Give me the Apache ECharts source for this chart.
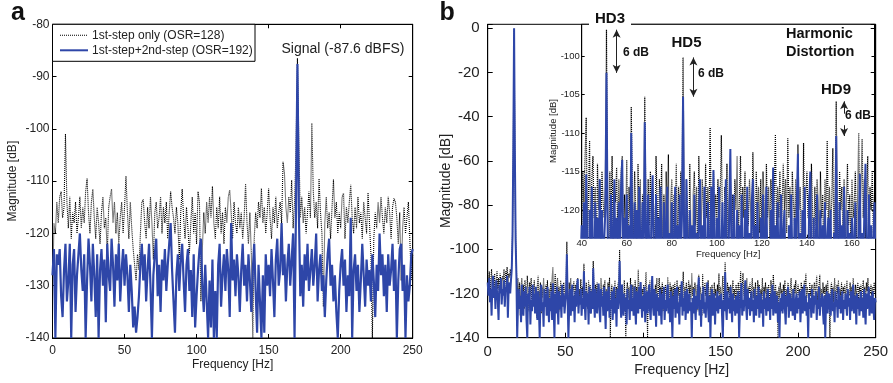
<!DOCTYPE html>
<html><head><meta charset="utf-8">
<script src="https://cdn.jsdelivr.net/npm/echarts@6/dist/echarts.min.js"></script>
<style>html,body{margin:0;padding:0;background:#fff}#c{width:893px;height:383px}</style>
</head><body><div id="c"></div>
<script>
const NAME_1 = '1st-step only (OSR=128)';
const NAME_2 = '1st-step+2nd-step (OSR=192)';
const STEP_A = 1;    // Hz per sample, panel a
const STEP_B = 0.5;  // Hz per sample, panel b (and inset)

// Panel a: 1st-step only (black dotted), 0..250 Hz
const blackA = [
-133,-118,-120,-114,-118,-113,-112,-117,-115,-101,
-114,-119,-113,-121,-116,-118,-114,-120,-117,-113,
-119,-115,-118,-112,-109.5,-116,-120,-114,-111.5,-117,
-121,-115,-118,-122,-116,-113,-119,-117,-124,-115,
-113,-111.5,-118,-114,-120,-116,-122,-117,-114,-120,
-115,-109,-116,-121,-114,-119,-123,-126,-129,-124,
-127,-120,-114,-113.5,-118,-121,-115,-119,-113,-118,
-125,-116,-114,-119,-117,-113,-120,-115,-118,-114,
-121,-116,-112,-115,-117,-120,-115,-118,-125,-116,
-111.5,-117,-121,-115,-119,-124,-118,-113,-120,-116,
-122,-112,-114,-133,-123,-116,-120,-114,-118,-113,
-117,-111,-118,-121,-115,-119,-113,-120,-116,-122,
-115,-118,-113,-111.7,-116,-121,-114,-118,-120,-115,
-119,-116,-121,-117,-110.5,-118,-122,-116,-124,-140,
-121,-116,-119,-114,-117,-111.4,-118,-115,-120,-116,
-111.4,-117,-121,-115,-118,-113,-119,-116,-114,-118,
-106.3,-108.5,-115,-118,-113,-116,-109.8,-119,-114,-104,
-86.5,-103,-117,-113,-118,-115,-120,-116,-112,-117,
-98.9,-112,-117,-114,-119,-109.5,-116,-120,-134,-118,
-113,-119,-116,-121,-115,-109.7,-117,-114,-120,-116,
-119,-113,-112.3,-121,-115,-118,-114,-110.7,-117,-120,
-115,-119,-113,-118,-116,-121,-114,-117,-120,-112.2,
-118,-124,-140,-121,-116,-119,-114,-118,-113,-117,
-120,-115,-118,-113,-116,-121,-115,-113.3,-114,-117,
-122,-116,-129,-119,-115,-120,-117,-114,-121,-129,
-124
];
// Panel a: 1st-step + 2nd-step (blue)
const blueA = [
-128,-123,-140,-124,-126,-123,-132,-136,-127,-122,
-133,-129,-122,-140,-126,-123,-135,-128,-124,-120,
-127,-131,-124,-140,-129,-121,-126,-133,-122,-128,
-136,-124,-140,-127,-123,-130,-125,-137,-122,-128,
-131,-121,-126,-134,-124,-129,-122,-133,-127,-123,
-130,-124,-128,-135,-126,-131,-138,-134,-139,-136,
-132,-126,-122,-129,-124,-133,-127,-122,-130,-140,
-128,-124,-121,-132,-126,-135,-125,-129,-123,-131,
-126,-122,-118,-127,-133,-139,-128,-124,-131,-125,
-122,-129,-135,-126,-123,-131,-127,-136,-124,-138,
-132,-127,-123,-121,-130,-135,-126,-133,-140,-129,
-138,-125,-140,-131,-140,-126,-122,-134,-128,-124,
-131,-123,-127,-136,-118,-129,-125,-132,-124,-128,
-135,-127,-122,-130,-126,-133,-124,-129,-135,-127,
-122,-131,-139,-126,-133,-140,-128,-139,-124,-130,
-126,-132,-123,-129,-136,-125,-121,-130,-127,-118,
-128,-124,-133,-126,-122,-130,-125,-120,-140,-115,
-87.6,-116,-132,-126,-134,-124,-129,-122,-131,-127,
-123,-130,-126,-120,-133,-127,-124,-131,-128,-136,
-129,-124,-121,-130,-126,-133,-128,-135,-140,-131,
-126,-123,-130,-125,-135,-128,-132,-117,-140,-127,
-124,-131,-126,-135,-129,-122,-128,-134,-125,-130,
-127,-133,-124,-129,-136,-126,-131,-120,-128,-124,
-132,-126,-135,-124,-130,-127,-122,-131,-125,-140,
-129,-123,-122,-131,-126,-140,-128,-133,-130,-124,
-123
];

// Panel b: 1st-step only (black dotted), 0..250 Hz in 0.5 Hz steps
const blackB = [
-112,-118,-110,-121,-114,-109,-119,-113,-117,-111,-122,-115,-110,-118,-113,-120,-111,-116,-119,-112,
-114,-109,-117,-110,-115,-108,-116,-111,-113,-109,-112,-106,-92,-52,0,-53,-94,-108,-121,-113,
-124,-115,-130,-117,-113,-122,-116,-127,-114,-119,-125,-112,-118,-128,-115,-121,-113,-126,-117,-120,
-114,-123,-118,-131,-116,-112,-124,-119,-115,-129,-117,-122,-113,-120,-126,-116,-121,-114,-127,-118,
-123,-115,-119,-113,-108,-124,-118,-111,-126,-116,-113,-121,-117,-128,-114,-120,-116,-125,-115,-119,
-121,-117,-96.6,-118,-130,-115,-122,-113,-126,-117,-119,-114.5,-124,-116,-121,-115,-113,-127,-118,-123,
-113.5,-125,-117,-121,-106.6,-119,-124,-115,-120,-127,-114,-122,-116,-129,-118,-121,-105.3,-120,-126,-116,
-122,-115,-124,-117,-120,-128,-113,-119,-125,-116,-121,-114,-127,-118,-123,-115,-120,-112.8,-140,-119,
-116,-124,-118,-121,-114,-126,-117,-122,-115,-120,-100.2,-119,-125,-116,-121,-127,-114,-123,-140,-118,
-115,-122,-117,-128,-113,-120,-124,-116,-119,-126,-114,-121,-117,-123,-109.3,-120,-125,-115,-122,-118,
-121,-116,-124,-118,-110.3,-122,-140,-117,-121,-114,-126,-119,-115,-123,-118,-128,-116,-120,-113,-124,
-119,-113,-125,-117,-121,-115,-128,-118,-122,-116,-120,-124,-112.5,-119,-126,-115,-121,-117,-123,-116,
-122,-115,-119,-127,-114,-121,-117,-124,-116,-120,-125,-118,-110.2,-123,-117,-121,-115,-126,-119,-114,
-120,-116,-123,-110.7,-121,-117,-125,-115,-119,-122,-116,-128,-111.5,-120,-117,-124,-130,-111.3,-122,-118,
-115,-121,-118,-124,-114,-120,-126,-117,-122,-116,-119,-125,-115,-121,-118,-127,-116,-120,-111,-123,
-117,-122,-119,-112,-124,-118,-105.9,-121,-126,-115,-120,-117,-123,-116,-128,-119,-114,-122,-118,-125,
-116,-121,-119,-115,-124,-118,-110,-122,-117,-110.8,-121,-116,-124,-118,-113,-127,-117,-120,-115,-123,
-118,-113,-122,-117,-125,-115,-120,-126,-114,-119,-116,-123,-118,-121,-113,-128,-117,-120,-115,-124,
-117,-122,-116,-120,-125,-114,-119,-123,-111.5,-118,-121,-116,-126,-119,-140,-117,-122,-115,-120,-118,
-123,-116,-120,-114,-126,-118,-121,-115,-119,-124,-117,-113,-122,-118,-127,-116,-120,-114,-123,-119,
-116,-121,-118,-124,-115,-120,-117,-126,-114,-119,-111,-122,-117,-120,-125,-115,-121,-118,-116,-123,
-118,-115,-121,-117,-112,-123,-119,-116,-111.5,-122,-118,-125,-115,-120,-117,-124,-116,-121,-114,-119,
-122,-140,-118,-115,-121,-117,-124,-113,-119,-126,-116,-120,-114,-123,-118,-121,-115,-127,-117,-120,
-116,-122,-118,-114,-125,-119,-121,-115,-120,-117,-126,-113,-119,-123,-116,-121,-118,-115,-124,-117,
-120,-116,-123,-118,-114,-121,-117,-125,-115,-119,-113,-122,-118,-120,-116,-124,-117,-121,-115,-119,
-122
];
// Panel b: 1st-step + 2nd-step (blue)
const blueB = [
-115,-121,-113,-124,-118,-130,-116,-112,-122,-117,-127,-114,-119,-123,-132,-116,-120,-113,-125,-118,
-121,-114,-126,-117,-119,-112,-131,-118,-115,-120,-114,-109,-94,-55,0,-56,-96,-112,-140,-126,
-118,-127,-121,-133,-116,-124,-130,-119,-126,-117,-132,-140,-120,-125,-117,-134,-123,-128,-116,-126,
-120,-129,-117,-125,-132,-119,-127,-140,-122,-116,-128,-124,-135,-118,-126,-120,-130,-117,-125,-133,
-122,-128,-119,-132,-115.4,-126,-140,-120,-129,-117,-125,-134,-119,-127,-121,-131,-116,-126,-120,-129,
-124,-120,-102.2,-122,-140,-127,-118,-130,-123,-116,-128,-121,-133,-119,-126,-117,-113.5,-129,-121,-125,
-118,-130,-122,-127,-110,-125,-132,-119,-126,-120,-134,-117,-124,-129,-119,-127,-108.6,-123,-131,-118,
-125,-129,-120,-115.5,-127,-133,-118,-126,-121,-130,-117,-125,-136,-119,-128,-122,-117,-131,-123,-127,
-119,-132,-124,-117,-129,-122,-135,-118,-127,-121,-105.3,-124,-131,-116,-126,-130,-120,-128,-122,-134,
-118,-127,-123,-132,-120,-116,-128,-122,-130,-117,-126,-134,-119,-125,-129,-117,-127,-114.8,-124,-131,
-121,-128,-117,-133,-125,-119,-129,-123,-116,-127,-132,-120,-112.1,-126,-130,-118,-125,-135,-120,-128,
-122,-130,-118,-126,-134,-120,-127,-117,-132,-123,-128,-119,-116,-129,-122,-133,-119,-126,-140,-121,
-127,-118,-131,-123,-117,-129,-124,-134,-120,-126,-114.5,-130,-122,-128,-119,-132,-124,-118,-129,-123,
-120,-128,-124,-140,-122,-129,-118,-126,-132,-121,-127,-119,-112.7,-130,-123,-135,-120,-127,-117,-129,
-124,-131,-119,-115,-127,-133,-121,-140,-123,-118,-130,-125,-120,-134,-122,-128,-119,-129,-124,-121,
-127,-120,-130,-140,-123,-128,-110.4,-126,-132,-119,-127,-122,-129,-117,-125,-133,-120,-128,-123,-130,
-121,-129,-124,-119,-140,-127,-122,-115.3,-130,-123,-128,-120,-114,-126,-132,-118,-127,-122,-130,-124,
-119,-128,-123,-133,-118,-126,-130,-121,-127,-117,-131,-124,-120,-129,-123,-135,-119,-127,-122,-130,
-124,-118,-128,-122,-132,-120,-127,-116,-130,-123,-119,-129,-125,-121,-133,-124,-140,-122,-128,-120,
-129,-123,-119,-127,-134,-121,-126,-117,-131,-124,-120,-128,-122,-130,-118,-126,-132,-123,-120,-129,
-122,-127,-119,-133,-124,-118,-129,-123,-116,-128,-121,-130,-124,-140,-120,-127,-122,-131,-118,-126,
-129,-121,-125,-119,-132,-123,-127,-117,-130,-122,-126,-120,-128,-134,-121,-140,-124,-119,-129,-123,
-120,-127,-130,-122,-118,-128,-124,-133,-119,-126,-123,-131,-117,-127,-121,-129,-124,-119,-132,-123,
-127,-120,-125,-130,-118,-126,-122,-132,-119,-128,-123,-116,-129,-124,-121,-134,-120,-127,-122,-130,
-124,-119,-128,-122,-131,-118,-126,-134,-120,-127,-123,-117,-130,-125,-121,-129,-119,-126,-132,-122,
-124
];

// Harmonic annotations (inset)
const HD_FREQ  = [51, 85, 153];
const HD_BLACK = [-96.6, -100.2, -105.9];
const HD_BLUE  = [-102.2, -105.3, -110.4];
const INSET_Y_TICKS = [-120, -115, -110, -105, -100];

const FONT = '"Liberation Sans", Arial, Helvetica, sans-serif';
const BLUE = '#2e46a8', BLACK = '#000';
const pairs = (vals, step) => vals.map((v, i) => [i * step, v]);

function axisBase(extra) {
  return Object.assign({
    type: 'value',
    splitLine: { show: false },
    nameMoveOverlap: false,
    axisLine: { show: true, onZero: false, lineStyle: { color: '#000', width: 1 } },
    axisTick: { show: true, inside: true, length: 4, lineStyle: { color: '#000' } },
    axisLabel: { color: '#222', fontFamily: FONT }
  }, extra);
}
function mirror(extra) {
  return axisBase(Object.assign({ axisLabel: { show: false }, name: '' }, extra));
}

const chart = echarts.init(document.getElementById('c'), null, { renderer: 'canvas' });
const arrowX = [55.5, 89.6, 156.5];
const txt = (x, y, text, size, bold, align, extra) => ({
  type: 'text', x: x, y: y, z: 100,
  style: Object.assign({ text: text, fontSize: size, fontWeight: bold ? 'bold' : 'normal', fontFamily: FONT,
    fill: '#111', align: align, textAlign: align, verticalAlign: 'middle', textVerticalAlign: 'middle' }, extra || {})
});

chart.setOption({
  animation: false,
  textStyle: { fontFamily: FONT },
  grid: [
    { left: 52.5, top: 24.3, width: 360.2, height: 313.7, show: true, borderColor: '#000', borderWidth: 1, backgroundColor: 'transparent' },
    { left: 487.7, top: 24.3, width: 388, height: 313.4, show: true, borderColor: '#000', borderWidth: 1, backgroundColor: 'transparent' },
    { left: 581.7, top: 24.3, width: 292.8, height: 213.4, show: true, borderColor: '#000', borderWidth: 1, backgroundColor: '#fff' }
  ],
  xAxis: [
    axisBase({ gridIndex: 0, min: 0, max: 250, interval: 50, position: 'bottom',
      axisLabel: { fontSize: 12, color: '#222', margin: 7 },
      name: 'Frequency [Hz]', nameLocation: 'middle', nameGap: 21, nameTextStyle: { fontSize: 12, color: '#222' } }),
    mirror({ gridIndex: 0, min: 0, max: 250, interval: 50, position: 'top' }),
    axisBase({ gridIndex: 1, min: 0, max: 250, interval: 50, position: 'bottom',
      axisTick: { show: true, inside: true, length: 5, lineStyle: { color: '#000' } },
      axisLabel: { fontSize: 15, color: '#222', margin: 7 },
      name: 'Frequency [Hz]', nameLocation: 'middle', nameGap: 25, nameTextStyle: { fontSize: 14, color: '#222' } }),
    axisBase({ gridIndex: 2, min: 40, max: 170, interval: 20, position: 'bottom',
      axisTick: { show: true, inside: true, length: 3, lineStyle: { color: '#000' } },
      axisLabel: { fontSize: 9.5, color: '#222', margin: 1, showMaxLabel: false,
        formatter: v => (v <= 160 ? String(v) : '') },
      name: 'Frequency [Hz]', nameLocation: 'middle', nameGap: 12, nameTextStyle: { fontSize: 9.5, color: '#222' } })
  ],
  yAxis: [
    axisBase({ gridIndex: 0, min: -140, max: -80, interval: 10, position: 'left',
      axisLabel: { fontSize: 12, color: '#222', margin: 3 },
      name: 'Magnitude [dB]', nameLocation: 'middle', nameGap: 33.5, nameRotate: 90, nameTextStyle: { fontSize: 12, color: '#222' } }),
    mirror({ gridIndex: 0, min: -140, max: -80, interval: 10, position: 'right' }),
    axisBase({ gridIndex: 1, min: -140, max: 1.8, interval: 20, position: 'left',
      axisTick: { show: true, inside: true, length: 5, lineStyle: { color: '#000' } },
      axisLabel: { fontSize: 15, color: '#222', margin: 8, formatter: v => (Math.abs(v % 20) < 1e-6 ? String(v) : '') },
      name: 'Magnitude [dB]', nameLocation: 'middle', nameGap: 34.5, nameRotate: 90, nameTextStyle: { fontSize: 14, color: '#222' } }),
    mirror({ gridIndex: 1, min: -140, max: 1.8, interval: 20, position: 'right',
      axisTick: { show: true, inside: true, length: 5, lineStyle: { color: '#000' } } }),
    axisBase({ gridIndex: 2, min: -123.6, max: -95.9, position: 'left',
      axisTick: { show: true, inside: true, length: 3, customValues: INSET_Y_TICKS, lineStyle: { color: '#000' } },
      axisLabel: { fontSize: 9.5, color: '#222', margin: 2, customValues: INSET_Y_TICKS },
      name: 'Magnitude [dB]', nameLocation: 'middle', nameGap: 23.6, nameRotate: 90, nameTextStyle: { fontSize: 9.5, color: '#222' } }),
    mirror({ gridIndex: 2, min: -123.6, max: -95.9, position: 'right',
      axisTick: { show: true, inside: true, length: 3, customValues: INSET_Y_TICKS, lineStyle: { color: '#000' } } })
  ],
  series: [
    { name: NAME_1, type: 'line', xAxisIndex: 0, yAxisIndex: 0, data: pairs(blackA, STEP_A), symbol: 'none',
      lineStyle: { color: BLACK, width: 1.1, type: [1, 1] }, itemStyle: { color: BLACK }, z: 2 },
    { name: NAME_2, type: 'line', xAxisIndex: 0, yAxisIndex: 0, data: pairs(blueA, STEP_A), symbol: 'none',
      lineStyle: { color: BLUE, width: 2.2 }, itemStyle: { color: BLUE }, z: 3 },
    { name: NAME_1, type: 'line', xAxisIndex: 2, yAxisIndex: 2, data: pairs(blackB, STEP_B), symbol: 'none',
      lineStyle: { color: BLACK, width: 1.1, type: [1, 1] }, itemStyle: { color: BLACK }, z: 2 },
    { name: NAME_2, type: 'line', xAxisIndex: 2, yAxisIndex: 2, data: pairs(blueB, STEP_B), symbol: 'none',
      lineStyle: { color: BLUE, width: 2 }, itemStyle: { color: BLUE }, z: 3 },
    { name: NAME_1, type: 'line', xAxisIndex: 3, yAxisIndex: 4, data: pairs(blackB, STEP_B), symbol: 'none', clip: true,
      lineStyle: { color: BLACK, width: 1.2, type: [1, 1] }, itemStyle: { color: BLACK }, z: 4 },
    { name: NAME_2, type: 'line', xAxisIndex: 3, yAxisIndex: 4, data: pairs(blueB, STEP_B), symbol: 'none', clip: true,
      lineStyle: { color: BLUE, width: 2 }, itemStyle: { color: BLUE }, z: 5,
      markLine: {
        silent: true, animation: false, symbol: ['arrow', 'arrow'], symbolSize: [6, 8],
        lineStyle: { color: '#222', width: 1, type: 'solid' }, label: { show: false },
        data: [
          [{ coord: [arrowX[0], HD_BLACK[0]] }, { coord: [arrowX[0], HD_BLUE[0]] }],
          [{ coord: [arrowX[1], HD_BLACK[1]] }, { coord: [arrowX[1], HD_BLUE[1]] }],
          [{ coord: [arrowX[2], HD_BLACK[2] - 1.6], symbol: 'none' }, { coord: [arrowX[2], HD_BLACK[2]], symbol: 'arrow' }],
          [{ coord: [arrowX[2], HD_BLUE[2] + 1.4], symbol: 'none' }, { coord: [arrowX[2], HD_BLUE[2]], symbol: 'arrow' }]
        ]
      }
    }
  ],
  graphic: [
    // legend box (panel a)
    { type: 'rect', z: 90, shape: { x: 52.5, y: 24.3, width: 202.5, height: 37 },
      style: { fill: '#fff', stroke: '#000', lineWidth: 1 } },
    { type: 'line', z: 91, shape: { x1: 60, y1: 35.3, x2: 88, y2: 35.3 },
      style: { stroke: BLACK, lineWidth: 1.1, lineDash: [1, 1] } },
    { type: 'line', z: 91, shape: { x1: 60, y1: 50.3, x2: 88, y2: 50.3 },
      style: { stroke: BLUE, lineWidth: 2 } },
    txt(92, 35.3, NAME_1, 12, false, 'left', { fill: '#222' }),
    txt(92, 50.3, NAME_2, 12, false, 'left', { fill: '#222' }),
    txt(11, 13.5, 'a', 25, true, 'left'),
    txt(439.5, 13.5, 'b', 25, true, 'left'),
    txt(281.5, 49, 'Signal (-87.6 dBFS)', 14, false, 'left', { fill: '#222' }),
    txt(610, 19, 'HD3', 15, true, 'center', { backgroundColor: '#fff', padding: [2, 6, 1, 6] }),
    txt(686.5, 43, 'HD5', 15, true, 'center'),
    txt(836, 90, 'HD9', 15, true, 'center'),
    txt(786, 33.5, 'Harmonic', 14.5, true, 'left'),
    txt(786, 52.3, 'Distortion', 14.5, true, 'left'),
    txt(623, 52.7, '6 dB', 12, true, 'left'),
    txt(698, 73.3, '6 dB', 12, true, 'left'),
    txt(845, 116, '6 dB', 12, true, 'left')
  ]
});
</script>
</body></html>
